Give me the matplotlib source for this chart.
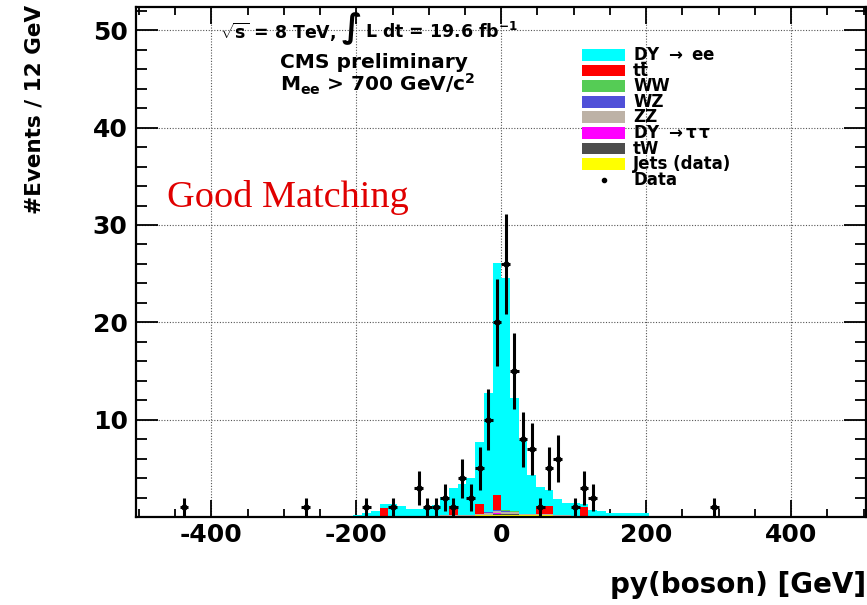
import numpy as np
import matplotlib
matplotlib.use('Agg')
import matplotlib.pyplot as plt
from matplotlib.patches import Rectangle
from matplotlib.ticker import MultipleLocator

# ROOT-like look: bold sans text, hyphen minus, bold mathtext
plt.rcParams['font.family'] = 'DejaVu Sans'
plt.rcParams['font.weight'] = 'bold'
plt.rcParams['axes.unicode_minus'] = False
plt.rcParams['mathtext.fontset'] = 'custom'
plt.rcParams['mathtext.rm'] = 'DejaVu Sans:bold'
plt.rcParams['mathtext.it'] = 'DejaVu Sans:bold'
plt.rcParams['mathtext.bf'] = 'DejaVu Sans:bold'
plt.rcParams['mathtext.default'] = 'rm'

# bin centres of the MC stack (12 GeV bins, -204 .. 204)
bin_centers = np.arange(-198, 199, 12)

# stacked MC components, bottom to top
jets = [0, 0, 0, 0, 0, 0, 0, 0, .1, .1, .15, .15, .15, .15, .2, .2, .25,
        .25, .25, .2, .2, .2, .2, .15, .15, .15, .15, .1, 0, 0, 0, 0, 0, 0]
tw = [0, 0, 0, 0, 0, 0, 0, 0, 0, 0, 0, 0, 0, 0, 0, .05, .1,
      .05, .05, 0, 0, 0, 0, 0, 0, 0, 0, 0, 0, 0, 0, 0, 0, 0]
dy_tautau = [0, 0, 0, 0, 0, 0, 0, 0, 0, 0, 0, 0, 0, 0, 0, 0, .03,
             .03, 0, 0, 0, 0, 0, 0, 0, 0, 0, 0, 0, 0, 0, 0, 0, 0]
zz = [0, 0, 0, .1, 0, 0, 0, 0, 0, 0, .1, .1, .1, .1, .1, .2, .2,
      .2, .2, .1, .1, .1, .1, .1, .1, 0, 0, 0, 0, 0, 0, 0, 0, 0]
wz = [0, 0, 0, 0, 0, 0, 0, 0, 0, 0, 0, 0, 0, 0, .05, .05, .1,
      .1, .05, .05, 0, 0, 0, 0, 0, 0, 0, 0, 0, 0, 0, 0, 0, 0]
ww = [0, 0, 0, 0, 0, 0, 0, 0, 0, 0, 0, 0, 0, 0, 0, .05, .05,
      .05, .05, 0, 0, 0, 0, 0, 0, 0, 0, 0, 0, 0, 0, 0, 0, 0]
ttbar = [0, 0, 0, .85, 0, 0, 0, 0, 0, 0, 0, .85, 0, 0, .95, 0, 1.52,
         0, 0, 0, 0, .8, .8, 0, 0, 0, .85, 0, 0, 0, 0, 0, 0, 0]
dy_ee = [0.2, 0.4, 0.6, 0.35, 1.3, 1.1, 0.8, 0.8, 0.8, 1.1, 1.85, 1.9, 3.15,
         3.75, 6.4, 12.15, 23.85, 23.9, 11.6, 7.55, 4.0, 2.0, 1.7, 1.55, 1.15,
         1.25, 0.35, 0.6, 0.6, 0.45, 0.45, 0.45, 0.45, 0.4]

# data points
data_x = [-438, -270, -186, -150, -114, -102, -90, -78, -66, -54, -42, -30, -18,
          -6, 6, 18, 30, 42, 54, 66, 78, 102, 114, 126, 294]
data_y = [1, 1, 1, 1, 3, 1, 1, 2, 1, 4, 2, 5, 10, 20, 26, 15, 8, 7, 1, 5, 6,
          1, 3, 2, 1]

legend_labels = ['DY $\\rightarrow$ ee', 'tt\u0304', 'WW', 'WZ', 'ZZ',
                 'DY $\\rightarrow\\tau\\,\\tau$', 'tW', 'Jets (data)', 'Data']

colors = {
    'dy_ee': '#00ffff', 'ttbar': '#ff0000', 'ww': '#55cc55', 'wz': '#5050d8',
    'zz': '#bdb2a6', 'dy_tautau': '#ff00ff', 'tw': '#4d4d4d', 'jets': '#ffff00',
}

fig = plt.figure(figsize=(8.67, 6.05), dpi=100)
ax = fig.add_axes([0.1569, 0.1455, 0.8425, 0.843])

layers = [(jets, 'jets'), (tw, 'tw'), (dy_tautau, 'dy_tautau'), (zz, 'zz'),
          (wz, 'wz'), (ww, 'ww'), (ttbar, 'ttbar'), (dy_ee, 'dy_ee')]
bottom = np.zeros(len(bin_centers))
for vals, key in layers:
    vals = np.array(vals, dtype=float)
    ax.bar(bin_centers, vals, width=12, bottom=bottom, color=colors[key],
           linewidth=0, zorder=2)
    bottom += vals

ax.errorbar(data_x, data_y, xerr=6, yerr=np.sqrt(data_y), fmt='o', ms=3.5,
            color='black', elinewidth=2.2, capsize=0, zorder=4)

ax.set_xlim(-504, 504)
ax.set_ylim(0, 52.4)
ax.set_xticks([-400, -200, 0, 200, 400])
ax.set_yticks([10, 20, 30, 40, 50])
ax.xaxis.set_minor_locator(MultipleLocator(50))
ax.yaxis.set_minor_locator(MultipleLocator(2))
ax.set_axisbelow(True)
ax.grid(True, which='major', color='#555555', linestyle=(0, (1, 1.5)),
        linewidth=0.8)
ax.tick_params(axis='x', which='major', direction='in', length=12, width=1.3,
               top=True, labelsize=18, pad=4)
ax.tick_params(axis='x', which='minor', direction='in', length=6, width=1.3,
               top=True)
ax.tick_params(axis='y', which='major', direction='in', length=16, width=1.3,
               right=True, labelsize=18, pad=6)
ax.tick_params(axis='y', which='minor', direction='in', length=8, width=1.3,
               right=True)
for sp in ax.spines.values():
    sp.set_linewidth(1.6)

# axis titles, ROOT style (at the ends of the axes)
fig.text(0.040, 0.992, '#Events / 12 GeV', rotation=90, ha='center',
         va='top', fontsize=15.5)
fig.text(0.999, 0.033, 'py(boson) [GeV]', ha='right', va='center',
         fontsize=20)

# CMS labels
fig.text(0.254, 0.947, '$\\sqrt{s}$ = 8 TeV,', ha='left', va='center',
         fontsize=12.5)
fig.text(0.405, 0.953, '$\\int$', ha='center', va='center', fontsize=24,
         fontweight='normal')
fig.text(0.421, 0.947, 'L dt = 19.6 fb$^{-1}$', ha='left', va='center',
         fontsize=12.5)
fig.text(0.323, 0.8975, 'CMS preliminary', ha='left', va='center',
         fontsize=14.5)
fig.text(0.323, 0.861, 'M$_{ee}$ > 700 GeV/c$^{2}$', ha='left', va='center',
         fontsize=14.5)

# legend drawn by hand so the rows sit as close as in the original
legend_colors = [colors['dy_ee'], colors['ttbar'], colors['ww'], colors['wz'],
                 colors['zz'], colors['dy_tautau'], colors['tw'],
                 colors['jets'], None]
row0 = 0.906
step = 0.0306
for k, (lab, col) in enumerate(zip(legend_labels, legend_colors)):
    yy = row0 - k * step
    if col is not None:
        ax.add_patch(Rectangle((0.6105, yy - 0.0115), 0.0589, 0.023,
                               transform=ax.transAxes, facecolor=col,
                               edgecolor='none', zorder=5))
    else:
        ax.plot([0.64], [yy], 'o', ms=3, color='black',
                transform=ax.transAxes, zorder=5)
    ax.text(0.6804, yy, lab, transform=ax.transAxes, ha='left', va='center',
            fontsize=12, zorder=6)

fig.text(0.1926, 0.658, 'Good Matching', color='#e00000',
         family='Liberation Serif', fontweight='normal', fontsize=27.5,
         ha='left', va='baseline')

fig.savefig('out.png', dpi=100)
